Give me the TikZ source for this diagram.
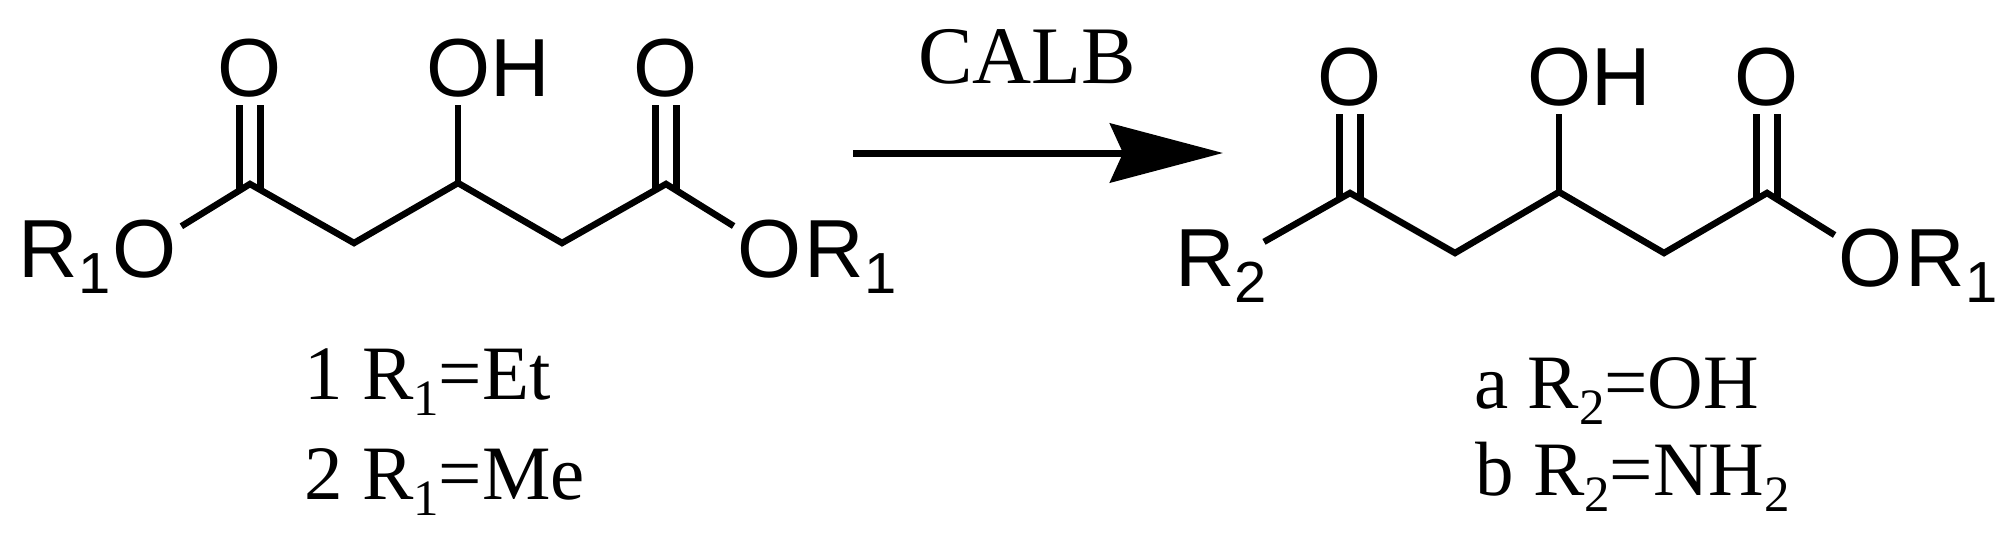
\documentclass[tikz,border=0pt]{standalone}
\usepackage{fontspec}
\setmainfont{Liberation Serif}
\setsansfont{Liberation Sans}
\usepackage{tikz}
\usetikzlibrary{arrows.meta,positioning}
\newcommand{\atomsub}[1]{\raisebox{-0.206em}{\fontsize{33}{33}\selectfont #1}}
\newcommand{\labelsub}[1]{\raisebox{-0.21em}{\fontsize{29}{29}\selectfont #1}}
\begin{document}
\begin{tikzpicture}[x=0.02cm,y=-0.02cm]
            \tikzstyle{every node}+=[inner sep=0pt]
            \tikzstyle{atom}=[font=\sffamily\fontsize{46.9}{46.9}\selectfont,inner xsep=0.08cm,inner ysep=0.16cm]
            \tikzstyle{group}=[font=\sffamily\fontsize{46.9}{46.9}\selectfont]
            \tikzstyle{caption}=[font=\fontsize{43.8}{43.8}\selectfont]
            \tikzstyle{bond}=[line width=0.13cm,line join=miter,black]
            \useasboundingbox (0,0) rectangle (2013,545);
            \coordinate (a1) at (250,184);
            \coordinate (a2) at (354,243);
            \coordinate (a3) at (458,183);
            \coordinate (a4) at (562,243);
            \coordinate (a5) at (666,184);
            \node [atom,anchor=base] (aot1) at (250,96) {O};
            \node [atom,anchor=base west] (aoh) at (422,96) {OH};
            \node [atom,anchor=base] (aot2) at (666,96) {O};
            \node [atom,anchor=base] (aol) at (145,277) {O};
            \node [group,base left=-0.04cm of aol] (ar1l) {R\atomsub{1}};
            \node [atom,anchor=base] (aor) at (770,277) {O};
            \node [group,base right=-0.04cm of aor] (ar1r) {R\atomsub{1}};
            \draw [bond] (aol) -- (a1) -- (a2) -- (a3) -- (a4) -- (a5) -- (aor);
            \draw [bond] ([xshift=-0.21cm]aot1.south) -- ([xshift=-0.21cm,yshift=-0.12cm]a1);
            \draw [bond] ([xshift=0.21cm]aot1.south) -- ([xshift=0.21cm,yshift=-0.12cm]a1);
            \draw [bond] (a3 |- aoh.south) -- (a3);
            \draw [bond] ([xshift=-0.21cm]aot2.south) -- ([xshift=-0.21cm,yshift=-0.12cm]a5);
            \draw [bond] ([xshift=0.21cm]aot2.south) -- ([xshift=0.21cm,yshift=-0.12cm]a5);
            \node [caption,anchor=base west] (acap1) at (304,399) {1 R\labelsub{1}=Et};
            \node [caption,anchor=base west] (acap2) at (304,499) {2 R\labelsub{1}=Me};
            \coordinate (arrowstart) at (853,153);
            \coordinate (arrowtip) at (1223,153);
            \draw [line width=0.14cm,-{Stealth[length=2.26cm,width=1.18cm,inset=0.26cm]}] (arrowstart) -- (arrowtip);
            \node [caption,font=\fontsize{46.5}{46.5}\selectfont,anchor=base] (enzyme) at (1027,83) {CALB};
            \coordinate (b1) at (1350,193);
            \coordinate (b2) at (1455,253);
            \coordinate (b3) at (1559,192);
            \coordinate (b4) at (1664,253);
            \coordinate (b5) at (1767,193);
            \node [atom,anchor=base] (bot1) at (1350,105) {O};
            \node [atom,anchor=base west] (boh) at (1523,105) {OH};
            \node [atom,anchor=base] (bot2) at (1767,105) {O};
            \node [group,anchor=base west] (br2) at (1175,286) {R\atomsub{2}};
            \node [atom,anchor=base] (bor) at (1871,286) {O};
            \node [group,base right=-0.04cm of bor] (br1) {R\atomsub{1}};
            \draw [bond,shorten <=-0.08cm] (br2) -- (b1) -- (b2) -- (b3) -- (b4) -- (b5) -- (bor);
            \draw [bond] ([xshift=-0.21cm]bot1.south) -- ([xshift=-0.21cm,yshift=-0.12cm]b1);
            \draw [bond] ([xshift=0.21cm]bot1.south) -- ([xshift=0.21cm,yshift=-0.12cm]b1);
            \draw [bond] (b3 |- boh.south) -- (b3);
            \draw [bond] ([xshift=-0.21cm]bot2.south) -- ([xshift=-0.21cm,yshift=-0.12cm]b5);
            \draw [bond] ([xshift=0.21cm]bot2.south) -- ([xshift=0.21cm,yshift=-0.12cm]b5);
            \node [caption,anchor=base west] (bcap1) at (1474,408) {a R\labelsub{2}=OH};
            \node [caption,anchor=base west] (bcap2) at (1475,495) {b R\labelsub{2}=NH\labelsub{2}};
\end{tikzpicture}
\end{document}
